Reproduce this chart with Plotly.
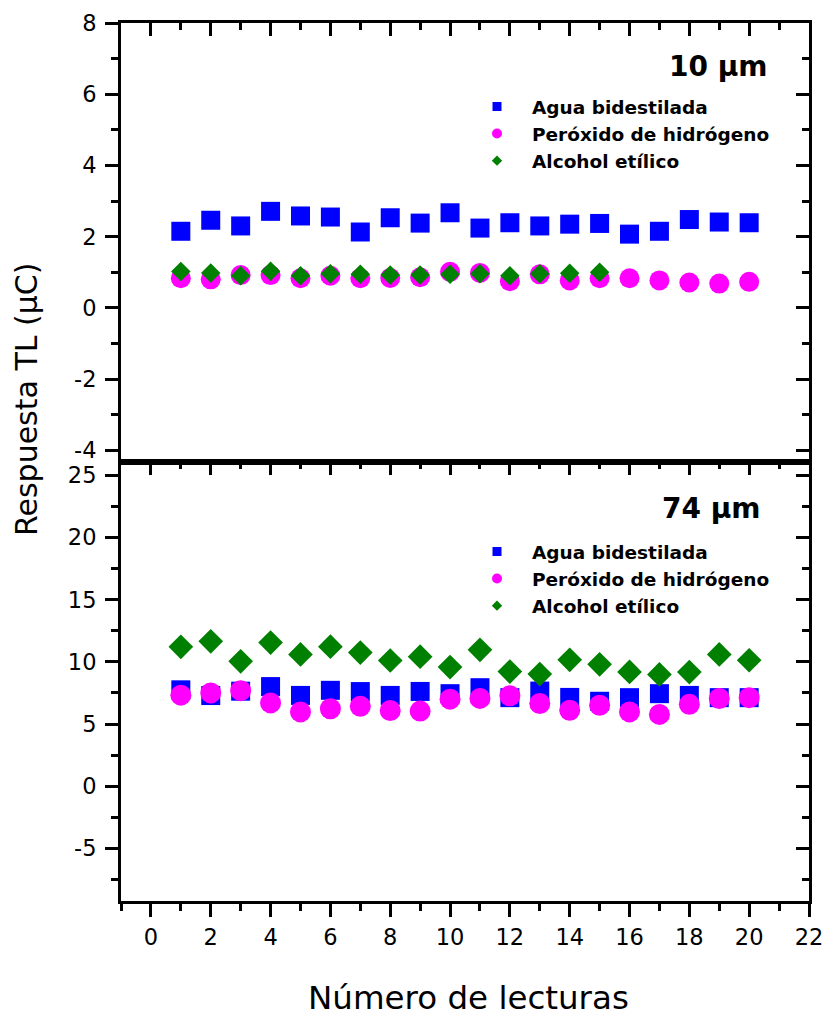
import plotly.graph_objects as go

# Número de lecturas
lecturas = list(range(1, 21))

# 10 µm
agua_10 = [2.15, 2.46, 2.30, 2.71, 2.58, 2.55, 2.13, 2.53, 2.38, 2.67,
           2.24, 2.39, 2.30, 2.35, 2.37, 2.07, 2.15, 2.48, 2.41, 2.39]
peroxido_10 = [0.83, 0.80, 0.92, 0.92, 0.83, 0.90, 0.83, 0.84, 0.86, 1.01,
               0.98, 0.75, 0.94, 0.77, 0.83, 0.83, 0.77, 0.71, 0.68, 0.73]
alcohol_10 = [1.02, 0.98, 0.90, 1.03, 0.90, 0.96, 0.94, 0.92, 0.92, 0.94,
              0.96, 0.90, 0.96, 0.97, 1.00]

# 74 µm
agua_74 = [7.75, 7.29, 7.64, 8.01, 7.30, 7.71, 7.61, 7.30, 7.62, 7.44,
           7.92, 7.12, 7.65, 7.14, 6.83, 7.12, 7.44, 7.30, 7.12, 7.12]
peroxido_74 = [7.32, 7.50, 7.68, 6.70, 5.97, 6.23, 6.43, 6.09, 6.04, 7.00,
               7.06, 7.27, 6.65, 6.11, 6.51, 5.97, 5.77, 6.58, 7.05, 7.12]
alcohol_74 = [11.21, 11.65, 10.04, 11.55, 10.60, 11.22, 10.75, 10.11, 10.42, 9.58,
              10.97, 9.22, 9.02, 10.16, 9.80, 9.19, 8.99, 9.18, 10.60, 10.13]

series_names = ["Agua bidestilada", "Peróxido de hidrógeno", "Alcohol etílico"]
colors = ["#0000FF", "#FF00FF", "#008000"]
symbols = ["square", "circle", "diamond"]

# tick labels (plain hyphen for negatives)
x_ticks = list(range(0, 23, 2))
y_top_ticks = [-4, -2, 0, 2, 4, 6, 8]
y_top_text = ["-4", "-2", "0", "2", "4", "6", "8"]
y_bot_ticks = [-5, 0, 5, 10, 15, 20, 25]
y_bot_text = ["-5", "0", "5", "10", "15", "20", "25"]

FONT = "DejaVu Sans"
W, H = 830, 1017
L, R, T, B = 121, 21, 23, 116
PW, PH = W - L - R, H - T - B


def px_x(p):
    return (p - L) / PW


def px_y(p):
    return (H - B - p) / PH


fig = go.Figure()

# top panel (10 µm) on x2/y2, bottom panel (74 µm) on x/y
top_sets = [(agua_10, 19), (peroxido_10, 20), (alcohol_10, 15)]
bot_sets = [(agua_74, 19), (peroxido_74, 21), (alcohol_74, 19)]

for (vals, size), name, c, s in zip(top_sets, series_names, colors, symbols):
    fig.add_trace(go.Scatter(
        x=lecturas[:len(vals)], y=vals, mode="markers", name=name,
        marker=dict(symbol=s, size=size, color=c, line=dict(width=0)),
        xaxis="x2", yaxis="y2", showlegend=False))

for (vals, size), name, c, s in zip(bot_sets, series_names, colors, symbols):
    fig.add_trace(go.Scatter(
        x=lecturas[:len(vals)], y=vals, mode="markers", name=name,
        marker=dict(symbol=s, size=size, color=c, line=dict(width=0)),
        xaxis="x", yaxis="y", showlegend=False))

# legend entries with small symbols
leg_sizes = [9, 10, 8]
for lg, xa, ya in [("legend", "x2", "y2"), ("legend2", "x", "y")]:
    for name, c, s, sz in zip(series_names, colors, symbols, leg_sizes):
        fig.add_trace(go.Scatter(
            x=[None], y=[None], mode="markers", name=name,
            marker=dict(symbol=s, size=sz, color=c, line=dict(width=0)),
            xaxis=xa, yaxis=ya, legend=lg, showlegend=True))

# empty traces so the frame axes (top / right edges) get drawn
for xa, ya in [("x3", "y"), ("x", "y3"), ("x4", "y2"), ("x2", "y4")]:
    fig.add_trace(go.Scatter(x=[None], y=[None], mode="markers", xaxis=xa, yaxis=ya,
                             showlegend=False, hoverinfo="skip"))

tickfont = dict(family=FONT, size=22.5, color="black")
XR = [-1, 22]
YR_TOP = [-4.33, 8]
YR_BOT = [-9.24, 26.08]

common = dict(showgrid=False, zeroline=False, showline=True, linecolor="black",
              linewidth=3, tickcolor="black", tickwidth=3, automargin=False)


def minor(direction, dt):
    return dict(ticks=direction, ticklen=7, tickwidth=3, tickcolor="black", dtick=dt, tick0=0)


leg_font = dict(family=FONT, size=18.5, color="black", weight="bold")

fig.update_layout(
    width=W, height=H,
    margin=dict(l=L, r=R, t=T, b=B, autoexpand=False),
    paper_bgcolor="white", plot_bgcolor="white",
    font=dict(family=FONT, color="black"),
    # bottom panel axes
    xaxis=dict(domain=[0, 1], anchor="y", range=XR, tickmode="array", tickvals=x_ticks,
               ticktext=[str(v) for v in x_ticks],
               ticks="outside", ticklen=13, tickfont=tickfont, ticklabelstandoff=1,
               minor=minor("outside", 1), **common),
    yaxis=dict(domain=[0, 0.5], anchor="x", range=YR_BOT, tickmode="array",
               tickvals=y_bot_ticks, ticktext=y_bot_text,
               ticks="outside", ticklen=13, tickfont=tickfont, ticklabelstandoff=4,
               minor=minor("outside", 2.5), **common),
    # top panel axes
    xaxis2=dict(domain=[0, 1], anchor="y2", range=XR, ticks="", showticklabels=False,
                **common),
    yaxis2=dict(domain=[0.5, 1], anchor="x2", range=YR_TOP, tickmode="array",
                tickvals=y_top_ticks, ticktext=y_top_text,
                ticks="outside", ticklen=13, tickfont=tickfont, ticklabelstandoff=4,
                minor=minor("outside", 1), **common),
    # frame edges with inward ticks
    xaxis3=dict(overlaying="x", anchor="y", side="top", range=XR, tickmode="linear", tick0=0,
                dtick=2, ticks="inside", ticklen=13, showticklabels=False,
                minor=minor("inside", 1), **common),
    yaxis3=dict(overlaying="y", anchor="x", side="right", range=YR_BOT, tickmode="linear",
                tick0=0, dtick=5, ticks="inside", ticklen=13, showticklabels=False,
                minor=minor("inside", 2.5), **common),
    xaxis4=dict(overlaying="x2", anchor="y2", side="top", range=XR, tickmode="linear", tick0=0,
                dtick=2, ticks="inside", ticklen=13, showticklabels=False,
                minor=minor("inside", 1), **common),
    yaxis4=dict(overlaying="y2", anchor="x2", side="right", range=YR_TOP, tickmode="linear",
                tick0=0, dtick=2, ticks="inside", ticklen=13, showticklabels=False,
                minor=minor("inside", 1), **common),
    legend=dict(x=px_x(462), y=px_y(88), xanchor="left", yanchor="top", itemwidth=60,
                bgcolor="rgba(0,0,0,0)", borderwidth=0, font=leg_font),
    legend2=dict(x=px_x(462), y=px_y(533), xanchor="left", yanchor="top", itemwidth=60,
                 bgcolor="rgba(0,0,0,0)", borderwidth=0, font=leg_font),
    annotations=[
        dict(text="10 μm", xref="paper", yref="paper", x=px_x(770), y=px_y(67),
             xanchor="right", yanchor="middle", showarrow=False,
             font=dict(family=FONT, size=28, color="black", weight="bold")),
        dict(text="74 μm", xref="paper", yref="paper", x=px_x(763), y=px_y(508),
             xanchor="right", yanchor="middle", showarrow=False,
             font=dict(family=FONT, size=28, color="black", weight="bold")),
        dict(text="Respuesta TL (μC)", xref="paper", yref="paper", x=px_x(27), y=px_y(400),
             xanchor="center", yanchor="middle", textangle=-90, showarrow=False,
             font=dict(family=FONT, size=30, color="black")),
        dict(text="Número de lecturas", xref="paper", yref="paper", x=px_x(468), y=px_y(998),
             xanchor="center", yanchor="middle", showarrow=False,
             font=dict(family=FONT, size=32.5, color="black")),
    ],
)

fig.write_html("out.html")
